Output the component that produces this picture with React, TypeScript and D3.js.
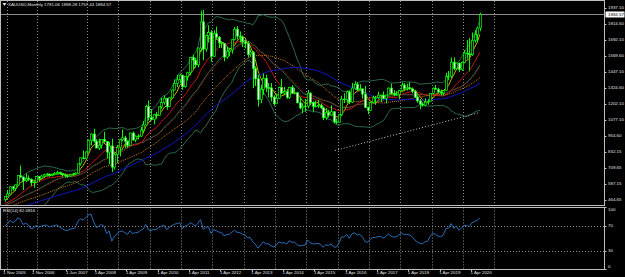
import { useEffect, useRef } from 'react';
import * as d3 from 'd3';

// monthly closes before the first visible bar, only used to warm up the indicators
const historyCloses = [
  293, 279, 275, 279,
  282, 296, 301, 308, 326, 318, 304, 312, 324, 317, 319, 347,
  367, 347, 334, 337, 361, 346, 354, 375, 384, 386, 398, 416,
  402, 397, 427, 388, 393, 395, 391, 408, 415, 428, 452, 438,
  422, 434, 427, 435, 417, 437, 429, 433, 473, 470,
];

// visible bars, left to right
const closes = [
  495, 513, 568, 556, 582, 654, 643, 614, 633, 624, 599, 604, 646, 632,
  650, 660, 665, 655, 662, 670, 678, 668, 659, 652, 650, 660, 665, 672,
  743, 789, 783, 834, 923, 971, 917,
  864, 886, 930, 914, 833, 880, 718, 814, 869,
  927, 942, 916, 883, 979, 926, 955, 955, 1001, 1040, 1182, 1096,
  1081, 1118, 1113, 1179, 1213, 1244, 1181, 1248, 1307, 1357, 1386, 1421,
  1333, 1410, 1439, 1556, 1536, 1500, 1628, 1828, 1620, 1722, 1746, 1565,
  1738, 1711, 1669, 1664, 1559, 1604, 1614, 1692, 1772, 1719, 1712, 1675,
  1663, 1578, 1595, 1472, 1393, 1234, 1312, 1396, 1327, 1323, 1253, 1202,
  1244, 1326, 1284, 1296, 1250, 1327, 1282, 1287, 1210, 1171, 1182, 1184,
  1283, 1213, 1183, 1184, 1190, 1172, 1095, 1134, 1115, 1142, 1065, 1061,
  1118, 1238, 1234, 1293, 1215, 1322, 1351, 1309, 1316, 1276, 1173, 1151,
  1211, 1249, 1249, 1268, 1268, 1242, 1269, 1322, 1280, 1271, 1275, 1303,
  1345, 1318, 1325, 1316, 1298, 1253, 1224, 1201, 1192, 1215, 1222, 1282,
  1321, 1313, 1292, 1284, 1305, 1409, 1413, 1520, 1472, 1513, 1464, 1517,
  1589, 1585, 1577, 1687, 1730, 1781.06, 1884.57,
];

const highs = [
  497, 540, 570, 574, 585, 654, 730, 645, 670, 655, 632, 610, 650, 648,
  660, 668, 672, 670, 668, 680, 690, 684, 675, 664, 660, 668, 675, 678,
  745, 790, 845, 838, 930, 975, 1011,
  932, 935, 933, 988, 915, 910, 935, 829, 888,
  933, 1006, 958, 922, 980, 990, 960, 970, 1025, 1070, 1195, 1227,
  1162, 1126, 1140, 1180, 1249, 1265, 1245, 1250, 1310, 1388, 1424, 1431,
  1424, 1411, 1447, 1557, 1577, 1553, 1632, 1912, 1921, 1730, 1803, 1764,
  1764, 1791, 1720, 1680, 1666, 1640, 1630, 1693, 1788, 1796, 1755, 1723,
  1695, 1683, 1617, 1605, 1488, 1423, 1348, 1434, 1424, 1361, 1361, 1267,
  1280, 1332, 1392, 1332, 1315, 1332, 1345, 1322, 1290, 1255, 1206, 1239,
  1307, 1290, 1219, 1225, 1232, 1205, 1180, 1170, 1157, 1191, 1142, 1089,
  1122, 1263, 1283, 1303, 1304, 1362, 1375, 1367, 1352, 1318, 1338, 1181,
  1220, 1264, 1262, 1295, 1270, 1296, 1270, 1326, 1357, 1306, 1299, 1307,
  1366, 1361, 1356, 1366, 1326, 1309, 1266, 1237, 1214, 1243, 1237, 1284,
  1326, 1346, 1325, 1310, 1306, 1439, 1453, 1555, 1557, 1517, 1516, 1525,
  1611, 1689, 1704, 1747, 1765, 1789, 1898.28,
];

const lows = [
  456, 490, 512, 538, 535, 580, 638, 543, 603, 612, 573, 560, 598, 608,
  625, 640, 648, 645, 648, 655, 662, 660, 645, 640, 636, 645, 652, 658,
  668, 730, 780, 780, 832, 885, 905,
  863, 850, 860, 905, 786, 740, 681, 700, 750,
  800, 916, 866, 865, 881, 920, 908, 930, 950, 990, 1040, 1075,
  1074, 1045, 1088, 1113, 1164, 1195, 1157, 1175, 1245, 1306, 1330, 1360,
  1309, 1325, 1380, 1420, 1462, 1478, 1480, 1601, 1535, 1600, 1669, 1523,
  1562, 1695, 1628, 1628, 1527, 1547, 1564, 1585, 1687, 1693, 1672, 1635,
  1626, 1555, 1562, 1321, 1338, 1180, 1207, 1270, 1292, 1251, 1221, 1187,
  1202, 1240, 1277, 1268, 1240, 1240, 1280, 1273, 1205, 1160, 1131, 1142,
  1167, 1191, 1142, 1175, 1170, 1162, 1077, 1080, 1097, 1110, 1052, 1046,
  1062, 1108, 1208, 1209, 1200, 1208, 1310, 1302, 1302, 1241, 1171, 1123,
  1146, 1207, 1194, 1240, 1214, 1237, 1205, 1267, 1272, 1260, 1264, 1236,
  1302, 1307, 1303, 1309, 1281, 1246, 1211, 1160, 1180, 1182, 1196, 1221,
  1275, 1310, 1281, 1266, 1266, 1306, 1382, 1400, 1459, 1459, 1445, 1454,
  1517, 1548, 1451, 1568, 1670, 1671, 1757.44,
];

const headerText = 'XAUUSD,Monthly  1781.06 1898.28 1757.44 1884.57';
const bidPrice = 1884.57;

const priceTicks = [1937.1, 1814.6, 1692.1, 1569.6, 1447.1, 1324.6, 1202.1, 1077.1, 954.6, 832.15, 709.65, 587.15, 464.65];

const timeLabels = [
  '1 Nov 2005', '1 Nov 2006', '1 Jun 2007', '1 Apr 2008', '1 Apr 2009', '1 Apr 2010', '1 Apr 2011', '1 Apr 2012',
  '1 Apr 2013', '1 Apr 2014', '1 Apr 2015', '1 Apr 2016', '1 Apr 2017', '1 Apr 2018', '1 Apr 2019', '1 Apr 2020',
];
const timeLabelBars = [0, 11, 24, 35, 47, 59, 71, 83, 95, 107, 119, 131, 143, 155, 167, 179];
const gridBars = [0.7, 12.5, 31.6, 43.5, 55.5, 67.5, 79.5, 91.5, 103.5, 115.5, 127.5, 139.5, 151.5, 163.5, 175.5, 187.5];

const rsiPeriod = 14;
const rsiTicks = [100, 70, 30, 0];
const rsiLevels = [70, 30];

// moving averages drawn over the price
const maPeriods = [5, 13, 21, 34, 50];
const maColors = ['#c8b400', '#c81414', '#a01818', '#d07a10', '#1414c8'];
const maDashed = [false, false, true, true, false];
const bbPeriod = 20;
const bbDev = 2;

// white dotted trend line (bar index, price)
const trendBars = [126.5, 181.5];
const trendPrices = [845, 1133];

const W = 625;
const H = 277;
const FONT = 'Liberation Sans, Arial, sans-serif';

const App = () => {
  const svgRef = useRef<SVGSVGElement>(null);

  useEffect(() => {
    document.body.style.margin = '0';
    const svg = d3.select(svgRef.current);
    svg.selectAll('*').remove();

    const axisX = 604.5;
    const mainBottom = 205.5;
    const rsiTop = 207.5;
    const rsiBottom = 269.5;

    const x = d3.scaleLinear().domain([0, 182]).range([4.8, 479.8]);
    const y = d3.scaleLinear().domain([464.65, 1937.1]).range([200.3, 7.6]);
    const yr = d3.scaleLinear().domain([0, 100]).range([269.4, 207]);

    const all = historyCloses.concat(closes);
    const off = historyCloses.length;
    const bars = closes.map((c, i) => ({
      i,
      o: i === 0 ? historyCloses[off - 1] : closes[i - 1],
      h: highs[i],
      l: lows[i],
      c,
    }));

    const sma = (n: number) =>
      closes.map((_, i) => {
        const j = i + off;
        return d3.mean(all.slice(j - n + 1, j + 1)) as number;
      });
    const bb = closes.map((_, i) => {
      const j = i + off;
      const win = all.slice(j - bbPeriod + 1, j + 1);
      const m = d3.mean(win) as number;
      const sd = Math.sqrt(d3.mean(win.map(v => (v - m) * (v - m))) as number);
      return { m, up: m + bbDev * sd, lo: m - bbDev * sd };
    });

    // Wilder RSI
    const rsiAll: number[] = [];
    let ag = 0;
    let al = 0;
    for (let j = 1; j < all.length; j++) {
      const d = all[j] - all[j - 1];
      const g = Math.max(d, 0);
      const l = Math.max(-d, 0);
      if (j <= rsiPeriod) {
        ag += g / rsiPeriod;
        al += l / rsiPeriod;
      } else {
        ag = (ag * (rsiPeriod - 1) + g) / rsiPeriod;
        al = (al * (rsiPeriod - 1) + l) / rsiPeriod;
      }
      rsiAll[j] = al === 0 ? 100 : 100 - 100 / (1 + ag / al);
    }
    const rsi = closes.map((_, i) => rsiAll[i + off]);

    svg.append('rect').attr('width', W).attr('height', H).attr('fill', '#000');

    const defs = svg.append('defs');
    defs.append('clipPath').attr('id', 'mainClip')
      .append('rect').attr('x', 1).attr('y', 1).attr('width', axisX - 1).attr('height', mainBottom - 1);
    defs.append('clipPath').attr('id', 'rsiClip')
      .append('rect').attr('x', 1).attr('y', rsiTop).attr('width', axisX - 1).attr('height', rsiBottom - rsiTop);

    // vertical grid, both windows
    gridBars.forEach(b => {
      const gx = Math.round(x(b)) + 0.5;
      [[1, mainBottom], [rsiTop, rsiBottom]].forEach(([a, z]) => {
        svg.append('line')
          .attr('x1', gx).attr('x2', gx).attr('y1', a).attr('y2', z)
          .attr('stroke', '#8c8c8c').attr('stroke-width', 1).attr('stroke-dasharray', '1,2');
      });
    });

    const main = svg.append('g').attr('clip-path', 'url(#mainClip)');

    // bid line
    main.append('line')
      .attr('x1', 0).attr('x2', axisX).attr('y1', Math.round(y(bidPrice)) + 0.5).attr('y2', Math.round(y(bidPrice)) + 0.5)
      .attr('stroke', '#8a8a8a').attr('stroke-width', 1);

    const line = d3.line<number>().x((_, i) => x(i)).y(v => y(v));

    // bollinger bands
    (['up', 'm', 'lo'] as const).forEach(k => {
      main.append('path')
        .attr('d', line(bb.map(b => b[k])))
        .attr('fill', 'none').attr('stroke', '#2c6a48').attr('stroke-width', 1);
    });

    maPeriods.forEach((p, k) => {
      main.append('path')
        .attr('d', line(sma(p)))
        .attr('fill', 'none')
        .attr('stroke', maColors[k])
        .attr('stroke-width', 1)
        .attr('stroke-dasharray', maDashed[k] ? '1,1' : null);
    });

    // candles
    const candles = main.append('g');
    bars.forEach(b => {
      const cx = Math.round(x(b.i)) + 0.5;
      candles.append('line')
        .attr('x1', cx).attr('x2', cx).attr('y1', y(b.h)).attr('y2', y(b.l))
        .attr('stroke', '#00ff00').attr('stroke-width', 1);
      const top = y(Math.max(b.o, b.c));
      const bot = y(Math.min(b.o, b.c));
      candles.append('rect')
        .attr('x', cx - 1).attr('y', top).attr('width', 2).attr('height', Math.max(bot - top, 0.6))
        .attr('fill', b.c < b.o ? '#ffffff' : '#000000')
        .attr('stroke', '#00ff00').attr('stroke-width', 0.7);
    });

    // trend line
    main.append('line')
      .attr('x1', x(trendBars[0])).attr('y1', y(trendPrices[0]))
      .attr('x2', x(trendBars[1])).attr('y2', y(trendPrices[1]))
      .attr('stroke', '#c8c8c8').attr('stroke-width', 1).attr('stroke-dasharray', '1,2');

    // RSI window
    const rsiG = svg.append('g').attr('clip-path', 'url(#rsiClip)');
    rsiLevels.forEach(v => {
      rsiG.append('line')
        .attr('x1', 0).attr('x2', axisX).attr('y1', Math.round(yr(v)) + 0.5).attr('y2', Math.round(yr(v)) + 0.5)
        .attr('stroke', '#8c8c8c').attr('stroke-dasharray', '1,2');
    });
    rsiG.append('path')
      .attr('d', d3.line<number>().x((_, i) => x(i)).y(v => yr(v))(rsi))
      .attr('fill', 'none').attr('stroke', '#2a6db4').attr('stroke-width', 1);

    // frames
    const frame = '#bdbdbd';
    svg.append('rect').attr('x', 0.5).attr('y', 0.5).attr('width', axisX - 0.5).attr('height', mainBottom - 0.5)
      .attr('fill', 'none').attr('stroke', frame);
    svg.append('rect').attr('x', 0.5).attr('y', rsiTop).attr('width', axisX - 0.5).attr('height', rsiBottom - rsiTop)
      .attr('fill', 'none').attr('stroke', frame);

    const txt = (tx: number, ty: number, s: string, fill = '#e0e0e0') =>
      svg.append('text')
        .attr('x', tx).attr('y', ty).attr('fill', fill)
        .attr('font-family', FONT).attr('font-size', 4.4)
        .attr('dominant-baseline', 'middle')
        .text(s);

    // price axis
    priceTicks.forEach(v => {
      const ty = y(v);
      svg.append('line').attr('x1', axisX).attr('x2', axisX + 2).attr('y1', Math.round(ty) + 0.5).attr('y2', Math.round(ty) + 0.5)
        .attr('stroke', frame);
      txt(axisX + 3.5, ty, v.toFixed(2));
    });
    const by = y(bidPrice);
    svg.append('rect').attr('x', axisX + 1).attr('y', by - 3).attr('width', 19).attr('height', 6).attr('fill', '#ffffff');
    txt(axisX + 3.5, by, bidPrice.toFixed(2), '#000');

    // rsi axis
    rsiTicks.forEach(v => {
      svg.append('line').attr('x1', axisX).attr('x2', axisX + 2).attr('y1', Math.round(yr(v)) + 0.5).attr('y2', Math.round(yr(v)) + 0.5)
        .attr('stroke', frame);
      txt(axisX + 3.5, Math.min(Math.max(yr(v), 210), 267), String(v));
    });

    // time axis
    timeLabels.forEach((s, k) => {
      const tx = x(timeLabelBars[k]);
      svg.append('line').attr('x1', Math.round(tx) - 0.5).attr('x2', Math.round(tx) - 0.5).attr('y1', rsiBottom).attr('y2', rsiBottom + 2)
        .attr('stroke', frame);
      txt(tx - 1.5, 273.2, s);
    });

    // window titles
    svg.append('path').attr('d', 'M2.5,3 L6.5,3 L4.5,6 Z').attr('fill', '#e0e0e0');
    txt(8, 4.6, headerText);
    txt(3, 211, `RSI(${rsiPeriod}) ${rsi[rsi.length - 1].toFixed(4)}`);
  }, []);

  return <svg ref={svgRef} width={W} height={H} viewBox={`0 0 ${W} ${H}`} style={{ display: 'block' }} />;
};

export default App;
